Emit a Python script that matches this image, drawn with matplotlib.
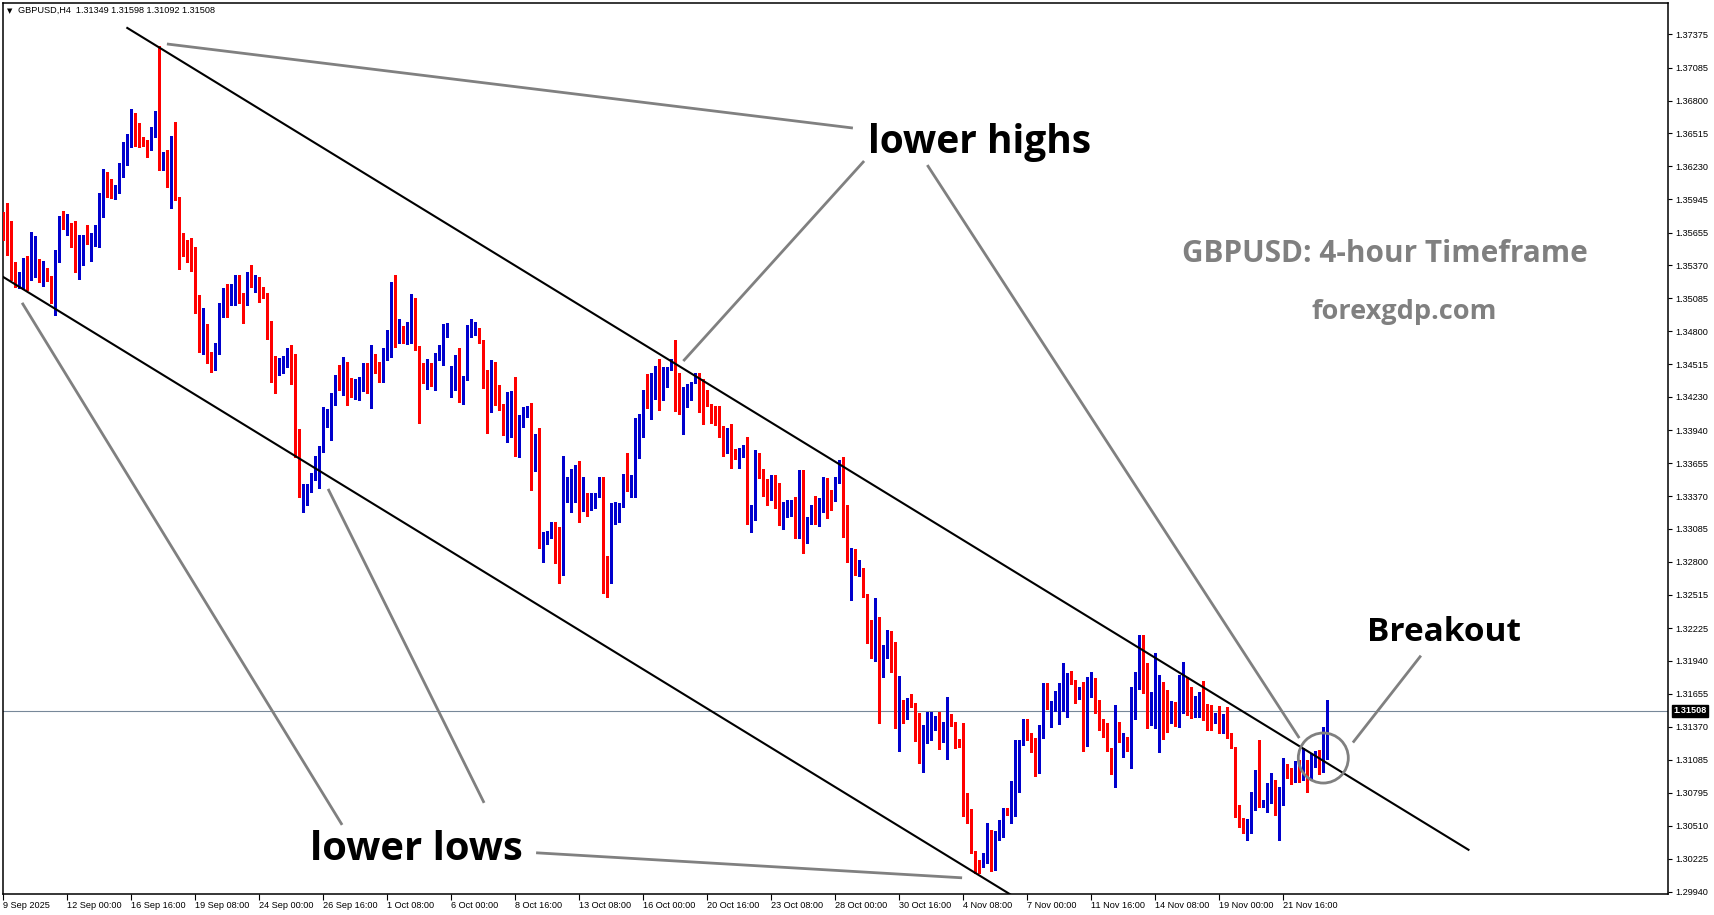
import numpy as np
import matplotlib
matplotlib.use("Agg")
import matplotlib.pyplot as plt
from matplotlib.patches import Ellipse

# GBPUSD H4 candles (bar 0 = 9 Sep 2025 08:00)
opens = [
    1.35748, 1.35748, 1.35557, 1.35358, 1.35208, 1.35231, 1.35427, 1.35283, 1.35312, 1.35375,
    1.35274, 1.35289, 1.35280, 1.35153, 1.35468, 1.35788, 1.35719, 1.35739, 1.35575, 1.35343,
    1.35442, 1.35615, 1.35474, 1.35563, 1.35684, 1.35823, 1.36156, 1.36002, 1.36002, 1.36020,
    1.36156, 1.36280, 1.36413, 1.36589, 1.36468, 1.36459, 1.36430, 1.36407, 1.36551, 1.36656,
    1.36234, 1.36286, 1.36069, 1.36407, 1.35948, 1.35540, 1.35520, 1.35500, 1.35453, 1.35002,
    1.34650, 1.34840, 1.34550, 1.34500, 1.34650, 1.34962, 1.35101, 1.35083, 1.35130, 1.35216,
    1.35080, 1.35043, 1.35260, 1.35216, 1.35245, 1.35159, 1.35100, 1.34849, 1.34464, 1.34430,
    1.34441, 1.34574, 1.34638, 1.34542, 1.33849, 1.33389, 1.33346, 1.33453, 1.33548, 1.33649,
    1.33771, 1.33988, 1.33863, 1.34242, 1.34386, 1.34355, 1.34528, 1.34326, 1.34225, 1.34256,
    1.34386, 1.34464, 1.34430, 1.34603, 1.34456, 1.34407, 1.34638, 1.34681, 1.35135, 1.34745,
    1.34776, 1.34701, 1.34762, 1.35051, 1.34672, 1.34407, 1.34386, 1.34456, 1.34355, 1.34580,
    1.34586, 1.34782, 1.34311, 1.34412, 1.34476, 1.34343, 1.34378, 1.34753, 1.34797, 1.34826,
    1.34710, 1.34456, 1.34146, 1.34435, 1.34334, 1.34167, 1.33935, 1.34089, 1.34204, 1.33878,
    1.34031, 1.34103, 1.34138, 1.33617, 1.33857, 1.32941, 1.32990, 1.33042, 1.33091, 1.33085,
    1.32793, 1.33452, 1.33452, 1.33519, 1.33568, 1.33270, 1.33342, 1.33302, 1.33345, 1.33365,
    1.33533, 1.32851, 1.32614, 1.33172, 1.33154, 1.33293, 1.33501, 1.33461, 1.33461, 1.33914,
    1.33880, 1.34227, 1.34146, 1.34391, 1.34492, 1.34276, 1.34362, 1.34478, 1.34521, 1.34247,
    1.34122, 1.34169, 1.34247, 1.34348, 1.34371, 1.34290, 1.34267, 1.34160, 1.34137, 1.34000,
    1.33935, 1.33808, 1.33871, 1.33747, 1.33689, 1.33718, 1.33805, 1.33206, 1.33244, 1.33718,
    1.33504, 1.33481, 1.33388, 1.33498, 1.33438, 1.33125, 1.33227, 1.33250, 1.33340, 1.33212,
    1.33466, 1.32960, 1.33168, 1.33249, 1.33162, 1.33272, 1.33480, 1.33359, 1.33330, 1.33503,
    1.33677, 1.33081, 1.32845, 1.32902, 1.32680, 1.32729, 1.32521, 1.32093, 1.32041, 1.32281,
    1.31882, 1.32041, 1.32171, 1.32079, 1.31365, 1.31567, 1.31452, 1.31587, 1.31573, 1.31414,
    1.31067, 1.31284, 1.31261, 1.31356, 1.31428, 1.31246, 1.31269, 1.31457, 1.31348, 1.31261,
    1.31217, 1.30634, 1.30582, 1.30293, 1.30200, 1.30163, 1.30215, 1.30402, 1.30249, 1.30394,
    1.30417, 1.30642, 1.30613, 1.30816, 1.31076, 1.31232, 1.31371, 1.31264, 1.31275, 1.30972,
    1.31307, 1.31712, 1.31452, 1.31521, 1.31558, 1.31737, 1.31737, 1.31789, 1.31746, 1.31651,
    1.31726, 1.31289, 1.31717, 1.31752, 1.31601, 1.31390, 1.31341, 1.31168, 1.31047, 1.31393,
    1.31203, 1.31249, 1.31168, 1.31564, 1.31697, 1.32122, 1.31867, 1.31463, 1.31480, 1.31558,
    1.31682, 1.31682, 1.31428, 1.31567, 1.31428, 1.31653, 1.31731, 1.31703, 1.31500, 1.31509,
    1.31607, 1.31549, 1.31549, 1.31414, 1.31471, 1.31327, 1.31471, 1.31269, 1.31188, 1.30682,
    1.30575, 1.30460, 1.30532, 1.30798, 1.30960, 1.30677, 1.30720, 1.30827, 1.30899, 1.30613,
    1.30850, 1.31015, 1.30951, 1.30893, 1.31029, 1.30937, 1.31052, 1.31023, 1.31047, 1.31075,
    1.31023, 1.31349,
]
highs = [
    1.35838, 1.35910, 1.35757, 1.35404, 1.35312, 1.35433, 1.35448, 1.35661, 1.35627, 1.35424,
    1.35413, 1.35346, 1.35280, 1.35505, 1.35803, 1.35843, 1.35817, 1.35742, 1.35757, 1.35632,
    1.35635, 1.35722, 1.35650, 1.35719, 1.35997, 1.36205, 1.36184, 1.36118, 1.36066, 1.36257,
    1.36442, 1.36508, 1.36725, 1.36690, 1.36604, 1.36482, 1.36459, 1.36569, 1.36710, 1.37274,
    1.36358, 1.36372, 1.36494, 1.36615, 1.35968, 1.35650, 1.35592, 1.35606, 1.35534, 1.35115,
    1.35000, 1.34860, 1.34620, 1.34700, 1.35043, 1.35173, 1.35208, 1.35208, 1.35289, 1.35289,
    1.35130, 1.35309, 1.35375, 1.35289, 1.35268, 1.35182, 1.35135, 1.34889, 1.34586, 1.34571,
    1.34586, 1.34658, 1.34681, 1.34603, 1.33950, 1.33476, 1.33476, 1.33568, 1.33719, 1.33800,
    1.34146, 1.34126, 1.34268, 1.34421, 1.34508, 1.34580, 1.34537, 1.34392, 1.34386, 1.34406,
    1.34528, 1.34522, 1.34681, 1.34603, 1.34537, 1.34652, 1.34811, 1.35230, 1.35288, 1.34904,
    1.34846, 1.34883, 1.35120, 1.35086, 1.34672, 1.34528, 1.34560, 1.34522, 1.34609, 1.34681,
    1.34863, 1.34869, 1.34499, 1.34594, 1.34652, 1.34412, 1.34854, 1.34904, 1.34878, 1.34826,
    1.34724, 1.34464, 1.34551, 1.34537, 1.34334, 1.34167, 1.34276, 1.34282, 1.34401, 1.34074,
    1.34146, 1.34152, 1.34175, 1.33906, 1.33958, 1.33062, 1.33071, 1.33149, 1.33149, 1.33099,
    1.33718, 1.33539, 1.33602, 1.33640, 1.33675, 1.33539, 1.33400, 1.33400, 1.33394, 1.33539,
    1.33539, 1.32851, 1.33313, 1.33322, 1.33313, 1.33559, 1.33741, 1.33553, 1.34044, 1.34079,
    1.34290, 1.34429, 1.34440, 1.34498, 1.34556, 1.34492, 1.34492, 1.34556, 1.34724, 1.34440,
    1.34319, 1.34339, 1.34362, 1.34440, 1.34435, 1.34383, 1.34290, 1.34166, 1.34151, 1.34151,
    1.33978, 1.33958, 1.33992, 1.33776, 1.33784, 1.33813, 1.33886, 1.33293, 1.33770, 1.33741,
    1.33602, 1.33516, 1.33553, 1.33553, 1.33481, 1.33322, 1.33337, 1.33340, 1.33360, 1.33597,
    1.33596, 1.33186, 1.33292, 1.33370, 1.33350, 1.33538, 1.33524, 1.33423, 1.33538, 1.33683,
    1.33712, 1.33292, 1.32923, 1.32908, 1.32816, 1.32749, 1.32521, 1.32295, 1.32489, 1.32324,
    1.32079, 1.32209, 1.32203, 1.32108, 1.31810, 1.31602, 1.31616, 1.31654, 1.31573, 1.31486,
    1.31385, 1.31501, 1.31501, 1.31463, 1.31501, 1.31414, 1.31631, 1.31480, 1.31414, 1.31261,
    1.31400, 1.30798, 1.30654, 1.30293, 1.30215, 1.30278, 1.30533, 1.30475, 1.30469, 1.30561,
    1.30662, 1.30662, 1.30902, 1.31255, 1.31255, 1.31434, 1.31434, 1.31313, 1.31275, 1.31385,
    1.31746, 1.31752, 1.31593, 1.31683, 1.31746, 1.31919, 1.31833, 1.31853, 1.31775, 1.31717,
    1.31760, 1.31798, 1.31847, 1.31789, 1.31601, 1.31434, 1.31399, 1.31182, 1.31558, 1.31414,
    1.31312, 1.31284, 1.31717, 1.31841, 1.32165, 1.32165, 1.31919, 1.31674, 1.32006, 1.31818,
    1.31760, 1.31688, 1.31590, 1.31580, 1.31818, 1.31934, 1.31804, 1.31717, 1.31636, 1.31674,
    1.31769, 1.31567, 1.31558, 1.31486, 1.31549, 1.31480, 1.31544, 1.31312, 1.31197, 1.30691,
    1.30581, 1.30567, 1.30807, 1.30995, 1.31255, 1.30734, 1.30879, 1.30966, 1.30908, 1.30850,
    1.31096, 1.31047, 1.31009, 1.31075, 1.31081, 1.31182, 1.31081, 1.31139, 1.31162, 1.31168,
    1.31370, 1.31598,
]
lows = [
    1.35592, 1.35462, 1.35245, 1.35187, 1.35173, 1.35164, 1.35159, 1.35245, 1.35274, 1.35225,
    1.35193, 1.35231, 1.35043, 1.34942, 1.35404, 1.35684, 1.35635, 1.35528, 1.35312, 1.35251,
    1.35375, 1.35557, 1.35413, 1.35540, 1.35534, 1.35794, 1.35968, 1.35953, 1.35950, 1.35997,
    1.36141, 1.36242, 1.36395, 1.36407, 1.36401, 1.36407, 1.36309, 1.36372, 1.36488, 1.36199,
    1.36199, 1.36054, 1.35867, 1.35939, 1.35343, 1.35448, 1.35404, 1.35318, 1.34956, 1.34620,
    1.34600, 1.34520, 1.34450, 1.34460, 1.34600, 1.34927, 1.34927, 1.35029, 1.35029, 1.35043,
    1.34875, 1.35023, 1.35187, 1.35144, 1.35057, 1.35086, 1.34733, 1.34363, 1.34268, 1.34421,
    1.34435, 1.34493, 1.34343, 1.33713, 1.33360, 1.33236, 1.33294, 1.33401, 1.33505, 1.33438,
    1.33748, 1.33973, 1.33858, 1.34161, 1.34291, 1.34248, 1.34161, 1.34233, 1.34210, 1.34204,
    1.34282, 1.34262, 1.34138, 1.34441, 1.34363, 1.34355, 1.34551, 1.34580, 1.34661, 1.34696,
    1.34701, 1.34690, 1.34696, 1.34638, 1.34008, 1.34349, 1.34300, 1.34326, 1.34291, 1.34551,
    1.34508, 1.34753, 1.34233, 1.34291, 1.34190, 1.34170, 1.34378, 1.34753, 1.34768, 1.34696,
    1.34305, 1.33921, 1.34103, 1.34161, 1.34118, 1.33901, 1.33843, 1.33878, 1.33719, 1.33713,
    1.33973, 1.34060, 1.33424, 1.33588, 1.32917, 1.32802, 1.32955, 1.33004, 1.32793, 1.32620,
    1.32686, 1.33322, 1.33235, 1.33322, 1.33149, 1.33244, 1.33201, 1.33250, 1.33264, 1.33365,
    1.32527, 1.32492, 1.32614, 1.33125, 1.33149, 1.33273, 1.33417, 1.33365, 1.33359, 1.33703,
    1.33880, 1.34131, 1.34039, 1.34209, 1.34117, 1.34203, 1.34319, 1.34463, 1.34111, 1.34082,
    1.33909, 1.34140, 1.34203, 1.34348, 1.34102, 1.33995, 1.34151, 1.34001, 1.33987, 1.33880,
    1.33718, 1.33747, 1.33617, 1.33689, 1.33617, 1.33712, 1.33128, 1.33062, 1.33163, 1.33524,
    1.33371, 1.33293, 1.33337, 1.33264, 1.33120, 1.33082, 1.33192, 1.33200, 1.33004, 1.33004,
    1.32879, 1.32960, 1.33128, 1.33128, 1.33110, 1.33235, 1.33183, 1.33249, 1.33330, 1.33480,
    1.33018, 1.32801, 1.32469, 1.32686, 1.32680, 1.32498, 1.32093, 1.31963, 1.31943, 1.31405,
    1.31804, 1.31963, 1.31847, 1.31356, 1.31163, 1.31399, 1.31434, 1.31544, 1.31249, 1.31053,
    1.30975, 1.31232, 1.31255, 1.31342, 1.31174, 1.31241, 1.31087, 1.31376, 1.31183, 1.31191,
    1.30596, 1.30532, 1.30272, 1.30105, 1.30105, 1.30151, 1.30186, 1.30122, 1.30128, 1.30388,
    1.30411, 1.30605, 1.30533, 1.30596, 1.30807, 1.31212, 1.31255, 1.31154, 1.30943, 1.30966,
    1.31270, 1.31521, 1.31365, 1.31506, 1.31394, 1.31509, 1.31457, 1.31740, 1.31572, 1.31607,
    1.31159, 1.31203, 1.31630, 1.31486, 1.31341, 1.31284, 1.31162, 1.30957, 1.30844, 1.31240,
    1.31110, 1.31159, 1.31009, 1.31434, 1.31697, 1.31659, 1.31356, 1.31385, 1.31356, 1.31154,
    1.31260, 1.31327, 1.31400, 1.31380, 1.31370, 1.31486, 1.31471, 1.31442, 1.31457, 1.31457,
    1.31428, 1.31341, 1.31341, 1.31399, 1.31318, 1.31312, 1.31269, 1.31182, 1.30590, 1.30503,
    1.30445, 1.30388, 1.30445, 1.30648, 1.30671, 1.30677, 1.30633, 1.30706, 1.30604, 1.30388,
    1.30691, 1.30922, 1.30873, 1.30893, 1.30893, 1.30908, 1.30807, 1.30908, 1.31023, 1.30960,
    1.30980, 1.31092,
]
closes = [
    1.35736, 1.35552, 1.35352, 1.35274, 1.35237, 1.35433, 1.35202, 1.35312, 1.35375, 1.35312,
    1.35289, 1.35274, 1.35153, 1.35462, 1.35794, 1.35722, 1.35739, 1.35572, 1.35341, 1.35445,
    1.35612, 1.35575, 1.35566, 1.35687, 1.35835, 1.36156, 1.35997, 1.35982, 1.36025, 1.36164,
    1.36277, 1.36416, 1.36589, 1.36453, 1.36459, 1.36430, 1.36410, 1.36554, 1.36656, 1.36234,
    1.36286, 1.36069, 1.36407, 1.35948, 1.35534, 1.35523, 1.35491, 1.35448, 1.34997, 1.34700,
    1.34840, 1.34600, 1.34500, 1.34650, 1.34971, 1.35092, 1.35083, 1.35135, 1.35216, 1.35086,
    1.35043, 1.35254, 1.35216, 1.35254, 1.35153, 1.35095, 1.34840, 1.34456, 1.34430, 1.34479,
    1.34580, 1.34638, 1.34542, 1.33843, 1.33389, 1.33424, 1.33462, 1.33554, 1.33655, 1.33776,
    1.33996, 1.34005, 1.34248, 1.34386, 1.34355, 1.34528, 1.34311, 1.34311, 1.34256, 1.34392,
    1.34464, 1.34435, 1.34594, 1.34441, 1.34407, 1.34643, 1.34681, 1.35135, 1.34745, 1.34768,
    1.34701, 1.34768, 1.35051, 1.34658, 1.34398, 1.34392, 1.34456, 1.34355, 1.34586, 1.34600,
    1.34788, 1.34797, 1.34412, 1.34476, 1.34363, 1.34386, 1.34759, 1.34854, 1.34826, 1.34696,
    1.34372, 1.34146, 1.34435, 1.34233, 1.34167, 1.33935, 1.34089, 1.34204, 1.33878, 1.34040,
    1.34109, 1.34138, 1.33618, 1.33857, 1.32941, 1.33024, 1.33047, 1.33091, 1.33082, 1.32793,
    1.33458, 1.33490, 1.33519, 1.33568, 1.33270, 1.33342, 1.33302, 1.33337, 1.33371, 1.33527,
    1.32845, 1.32614, 1.33177, 1.33186, 1.33293, 1.33490, 1.33461, 1.33467, 1.33914, 1.34036,
    1.34227, 1.34146, 1.34391, 1.34492, 1.34276, 1.34362, 1.34478, 1.34521, 1.34247, 1.34122,
    1.34180, 1.34247, 1.34354, 1.34371, 1.34284, 1.34255, 1.34160, 1.34040, 1.33995, 1.33935,
    1.33799, 1.33877, 1.33741, 1.33718, 1.33727, 1.33805, 1.33206, 1.33250, 1.33718, 1.33553,
    1.33461, 1.33394, 1.33504, 1.33438, 1.33125, 1.33256, 1.33313, 1.33340, 1.33214, 1.33467,
    1.32960, 1.33110, 1.33249, 1.33168, 1.33272, 1.33480, 1.33359, 1.33342, 1.33509, 1.33677,
    1.33081, 1.32845, 1.32902, 1.32694, 1.32729, 1.32512, 1.32093, 1.32041, 1.32287, 1.31943,
    1.32041, 1.32186, 1.32079, 1.31365, 1.31558, 1.31480, 1.31596, 1.31573, 1.31414, 1.31061,
    1.31365, 1.31492, 1.31434, 1.31428, 1.31255, 1.31275, 1.31457, 1.31385, 1.31255, 1.31212,
    1.30625, 1.30576, 1.30287, 1.30186, 1.30157, 1.30221, 1.30402, 1.30249, 1.30402, 1.30518,
    1.30642, 1.30613, 1.30816, 1.31090, 1.31232, 1.31379, 1.31313, 1.31203, 1.30981, 1.31313,
    1.31712, 1.31608, 1.31521, 1.31637, 1.31740, 1.31760, 1.31795, 1.31740, 1.31653, 1.31674,
    1.31289, 1.31726, 1.31752, 1.31492, 1.31385, 1.31341, 1.31162, 1.31047, 1.31399, 1.31327,
    1.31249, 1.31168, 1.31567, 1.31697, 1.32122, 1.31867, 1.31463, 1.31486, 1.31558, 1.31682,
    1.31616, 1.31610, 1.31573, 1.31428, 1.31653, 1.31731, 1.31703, 1.31486, 1.31515, 1.31607,
    1.31529, 1.31520, 1.31414, 1.31457, 1.31327, 1.31471, 1.31269, 1.31188, 1.30682, 1.30575,
    1.30460, 1.30532, 1.30798, 1.30960, 1.30677, 1.30720, 1.30827, 1.30899, 1.30613, 1.30850,
    1.31009, 1.31006, 1.30885, 1.31029, 1.30893, 1.31058, 1.31000, 1.31067, 1.31081, 1.31015,
    1.31356, 1.31508,
]

last_price = 1.31508
header = "GBPUSD,H4  1.31349 1.31598 1.31092 1.31508"

price_ticks = [1.37375, 1.37085, 1.36800, 1.36515, 1.36230, 1.35945, 1.35655, 1.35370,
               1.35085, 1.34800, 1.34515, 1.34230, 1.33940, 1.33655, 1.33370, 1.33085,
               1.32800, 1.32515, 1.32225, 1.31940, 1.31655, 1.31370, 1.31085, 1.30795,
               1.30510, 1.30225, 1.29940]
date_labels = ["9 Sep 2025", "12 Sep 00:00", "16 Sep 16:00", "19 Sep 08:00", "24 Sep 00:00",
               "26 Sep 16:00", "1 Oct 08:00", "6 Oct 00:00", "8 Oct 16:00", "13 Oct 08:00",
               "16 Oct 00:00", "20 Oct 16:00", "23 Oct 08:00", "28 Oct 00:00", "30 Oct 16:00",
               "4 Nov 08:00", "7 Nov 00:00", "11 Nov 16:00", "14 Nov 08:00", "19 Nov 00:00",
               "21 Nov 16:00"]
bars_per_label = 16

# channel lines and the hand-drawn pointers (bar index, price)
upper_x, upper_y = [31.0, 366.3], [1.37430, 1.30302]
lower_x, lower_y = [-0.2, 262.0], [1.35274, 1.29697]
pointers = [
    ([40.9, 212.4], [1.37291, 1.36562]),
    ([215.2, 170.0], [1.36276, 1.34541]),
    ([231.0, 324.0], [1.36241, 1.31271]),
    ([4.7, 84.7], [1.35046, 1.30518]),
    ([81.2, 120.2], [1.33432, 1.30709]),
    ([133.2, 239.7], [1.30276, 1.30059]),
    ([354.4, 337.4], [1.31986, 1.31232]),
]
circle_x, circle_y = 330.0, 1.31098

assert len(opens) == len(highs) == len(lows) == len(closes)

W, H = 1714, 915
fig = plt.figure(figsize=(W / 100, H / 100), dpi=100)
ax = fig.add_axes([2.5 / W, (H - 894.3) / H, 1665.5 / W, 891.6 / H])

o = np.array(opens)
h = np.array(highs)
l = np.array(lows)
c = np.array(closes)
x = np.arange(len(o))
cols = np.where(c > o, "#0000CD", "#FF0000")

ax.vlines(x, l, h, colors=cols, linewidth=0.75, antialiased=False, zorder=3)
body = np.maximum(np.abs(c - o), 0.00009)
ax.bar(x, body, bottom=np.minimum(o, c), width=0.8, color=cols, linewidth=0,
       antialiased=False, zorder=4)

ax.axhline(last_price, color="#778899", linewidth=0.8, zorder=2)

ax.plot(upper_x, upper_y, color="black", linewidth=1.5, zorder=5)
ax.plot(lower_x, lower_y, color="black", linewidth=1.5, zorder=5)
for px, py in pointers:
    ax.plot(px, py, color="#808080", linewidth=2.0, solid_capstyle="butt", zorder=6)
ax.add_patch(Ellipse((circle_x, circle_y), 12.5, 0.00434, fill=False,
                     edgecolor="#808080", linewidth=2.0, zorder=6))

big = dict(family="Open Sans", weight="bold", color="black")
ax.text(216.3, 1.36346, "lower highs", ha="left", va="baseline", fontsize=28, **big)
ax.text(76.8, 1.30214, "lower lows", ha="left", va="baseline", fontsize=28.8, **big)
ax.text(341.0, 1.32117, "Breakout", ha="left", va="baseline", fontsize=24, **big)
ax.text(345.5, 1.35400, "GBPUSD: 4-hour Timeframe", ha="center", va="baseline",
        family="Open Sans", weight="bold", color="#808080", fontsize=21.4)
ax.text(350.2, 1.34906, "forexgdp.com", ha="center", va="baseline",
        family="Open Sans", weight="bold", color="#808080", fontsize=19.5)

ax.set_xlim(-0.2, 416.175)
ax.set_ylim(1.29916, 1.37649)

small = ["Liberation Sans", "DejaVu Sans"]
ax.yaxis.tick_right()
ax.set_yticks(price_ticks)
ax.set_yticklabels([f"{v:.5f}" for v in price_ticks], family=small, fontsize=6.6)
ax.tick_params(axis="y", direction="out", length=3, width=0.8, pad=2)

ax.set_xticks(np.arange(len(date_labels)) * bars_per_label)
ax.set_xticklabels(date_labels, family=small, fontsize=6.6, ha="left")
ax.tick_params(axis="x", direction="out", length=4, width=0.8, pad=1)

for s in ax.spines.values():
    s.set_linewidth(1.1)
    s.set_color("black")

ax.annotate(f"{last_price:.5f}", xy=(1.0, last_price), xycoords=ax.get_yaxis_transform(),
            xytext=(4, 0), textcoords="offset points", ha="left", va="center",
            family=small, fontsize=6.6, color="white", fontweight="bold",
            bbox=dict(boxstyle="square,pad=0.15", facecolor="black", edgecolor="black"))

fig.text(7 / W, 1 - 10.7 / H, "\u25bc", family="DejaVu Sans", fontsize=5, va="center")
fig.text(18 / W, 1 - 10.7 / H, header, family=small, fontsize=6.6, va="center")

fig.savefig("out.png", dpi=100, facecolor="white")
